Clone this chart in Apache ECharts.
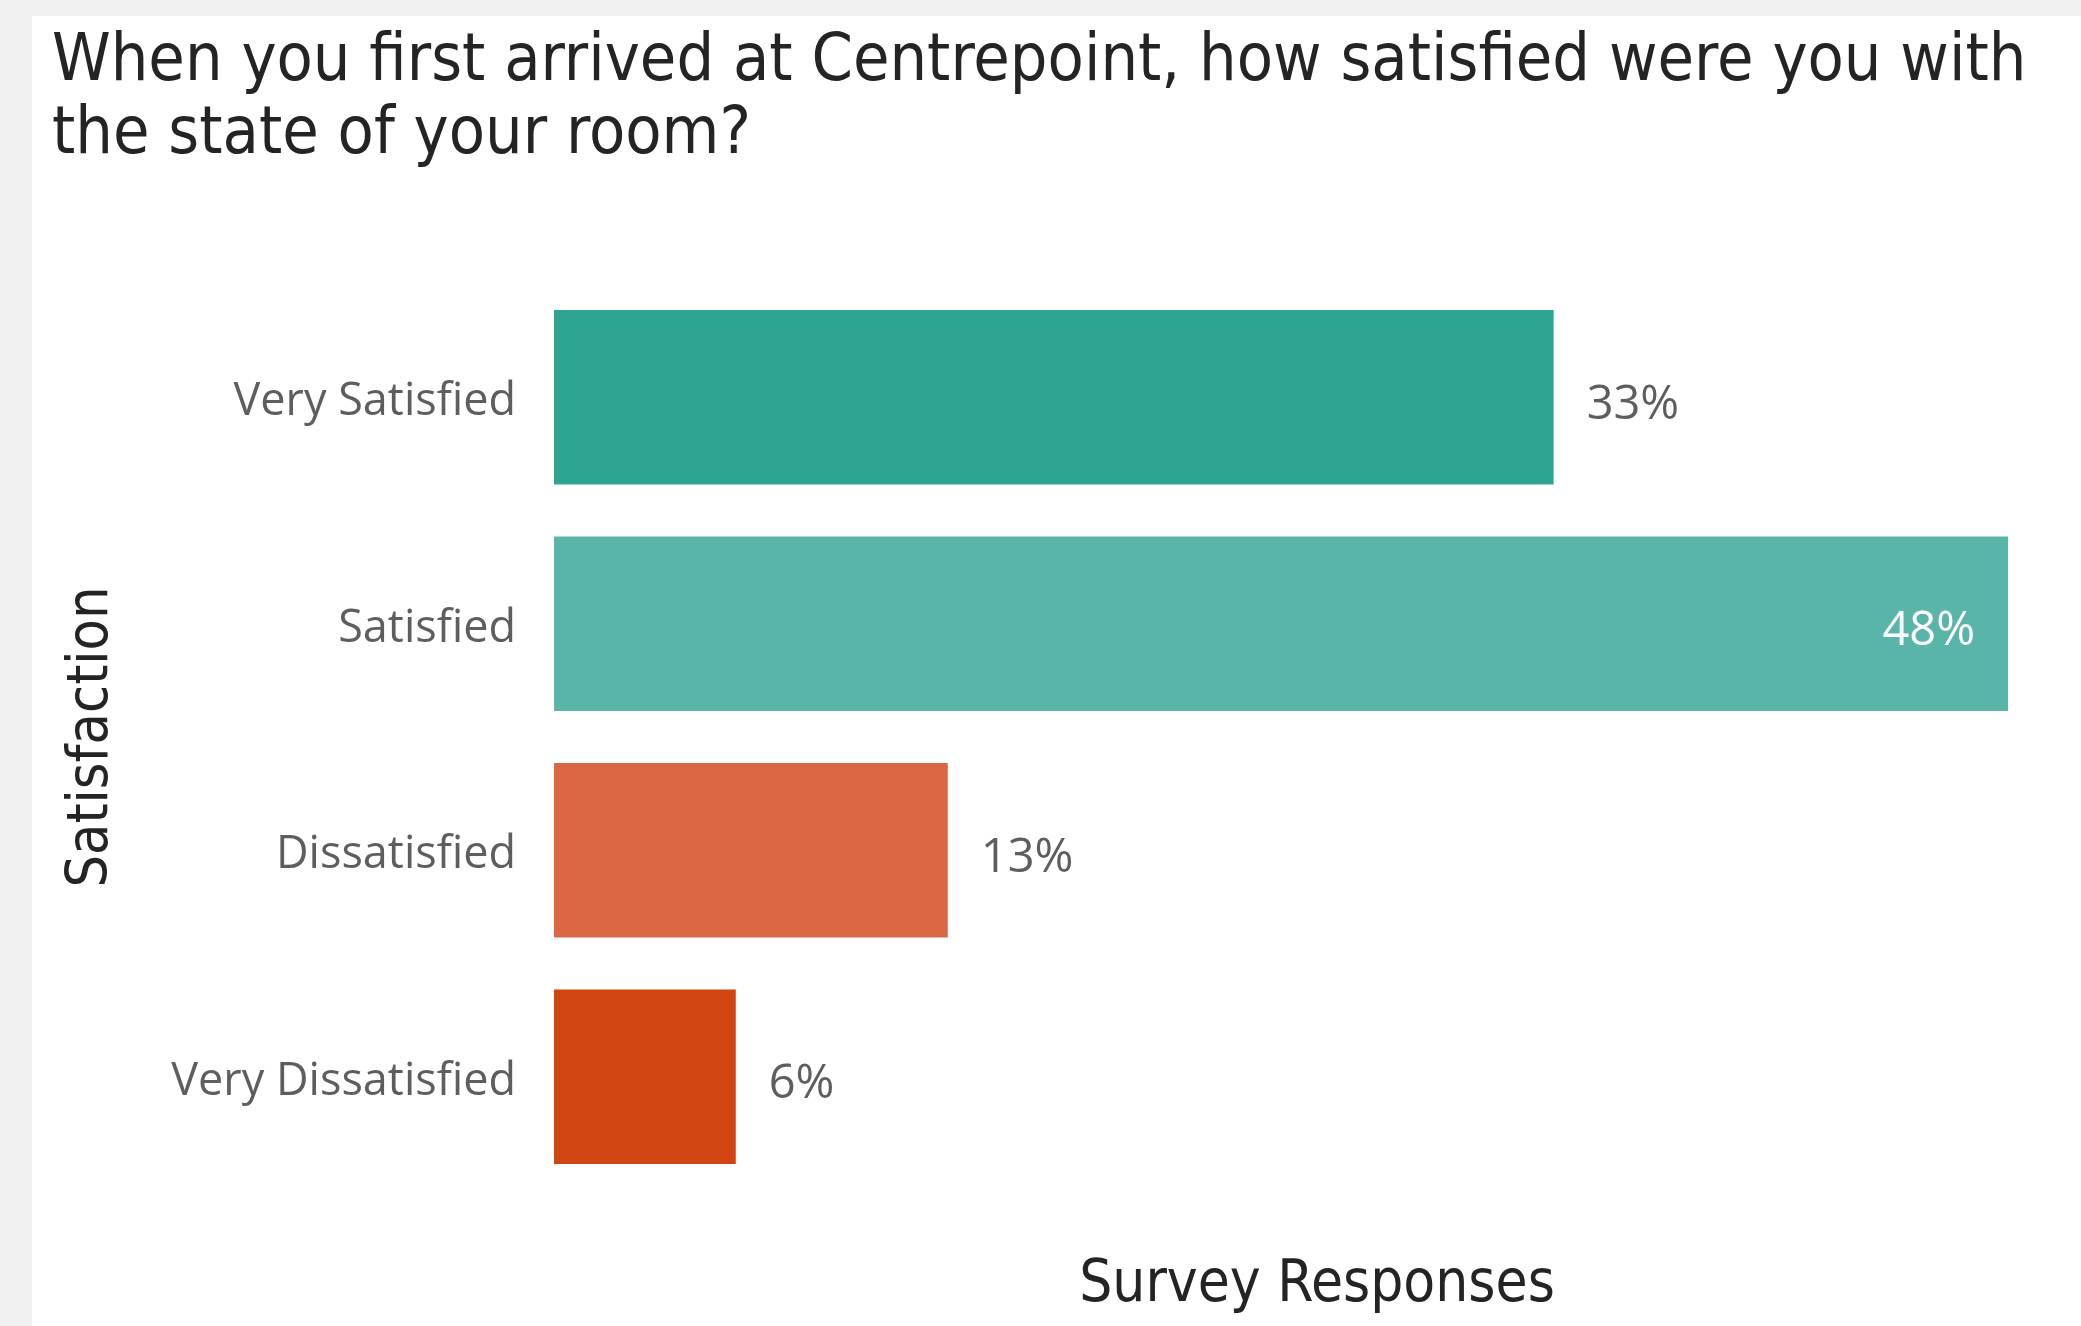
<!DOCTYPE html>
<html>
<head>
<meta charset="utf-8">
<script src="https://cdn.jsdelivr.net/npm/echarts@6/dist/echarts.min.js"></script>
<style>
  html, body { margin: 0; padding: 0; background: #F0F0F0; }
  #chart { width: 2081px; height: 1326px; }
</style>
</head>
<body>
<div id="chart"></div>
<script>
// Survey: satisfaction with the room on arrival
const titleText = 'When you first arrived at Centrepoint, how satisfied were you with\nthe state of your room?';
const categories = ['Very Satisfied', 'Satisfied', 'Dissatisfied', 'Very Dissatisfied'];
const shares = [33, 48, 13, 6];            // percent of survey responses
const barColors = ['#2EA493', '#59B5AA', '#DB6744', '#D14513'];
const yAxisTitle = 'Satisfaction';
const xAxisTitle = 'Survey Responses';

const headFont = '"DejaVu Sans Condensed", "DejaVu Sans", sans-serif';
const bodyFont = '"Open Sans", "Noto Sans", sans-serif';
const maxShare = Math.max(...shares);

const chart = echarts.init(document.getElementById('chart'), null, { renderer: 'canvas' });

chart.setOption({
  backgroundColor: '#F0F0F0',
  animation: false,
  graphic: [{
    type: 'rect',
    z: -100,
    silent: true,
    shape: { x: 32, y: 16, width: 2081, height: 1326 },
    style: { fill: '#FFFFFF' }
  }],
  title: {
    text: titleText,
    left: 47,
    top: 21,
    textStyle: {
      fontFamily: headFont,
      fontWeight: 'normal',
      fontSize: 66,
      lineHeight: 73,
      color: '#252423'
    }
  },
  grid: { left: 554, right: 73, top: 284, bottom: 136, containLabel: false },
  xAxis: {
    type: 'value',
    min: 0,
    max: maxShare,
    axisLine: { show: false },
    axisTick: { show: false },
    axisLabel: { show: false },
    splitLine: { show: false },
    name: xAxisTitle,
    nameLocation: 'middle',
    nameGap: 67,
    nameTextStyle: {
      fontFamily: headFont,
      fontSize: 58,
      color: '#252423',
      padding: [0, 0, 0, 72]
    }
  },
  yAxis: {
    type: 'category',
    inverse: true,
    data: categories,
    axisLine: { show: false },
    axisTick: { show: false },
    axisLabel: {
      margin: 38,
      fontFamily: bodyFont,
      fontSize: 45,
      color: '#605E5C',
      // glyphs sit a few pixels below the band centre
      verticalAlign: 'top',
      lineHeight: 10
    },
    name: yAxisTitle,
    nameLocation: 'middle',
    nameGap: 433,
    nameTextStyle: {
      fontFamily: headFont,
      fontSize: 57,
      color: '#252423'
    }
  },
  series: [{
    type: 'bar',
    barCategoryGap: '23%',
    data: shares.map((v, i) => {
      const inside = v === maxShare;
      return {
        value: v,
        itemStyle: { color: barColors[i] },
        label: {
          show: true,
          position: inside ? 'insideRight' : 'right',
          distance: 33,
          color: inside ? '#FFFFFF' : '#605E5C'
        }
      };
    }),
    label: {
      show: true,
      formatter: p => p.value + '%',
      fontFamily: bodyFont,
      fontSize: 47,
      offset: [0, 8]
    }
  }]
});
</script>
</body>
</html>
